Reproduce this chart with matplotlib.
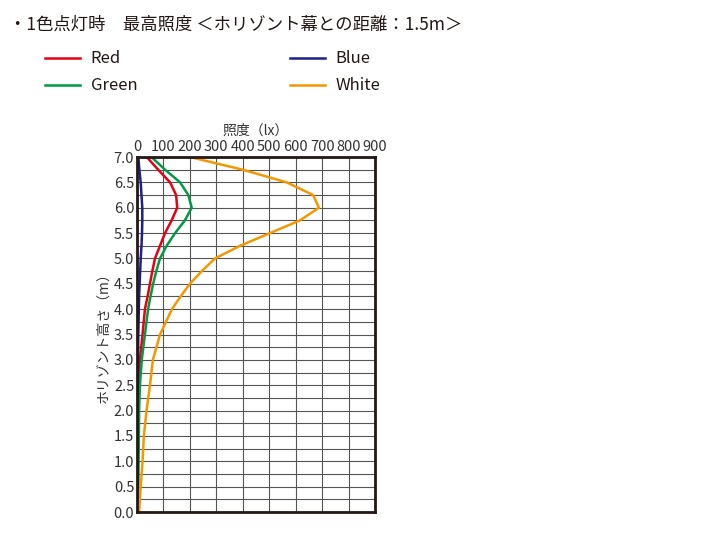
import matplotlib
matplotlib.use('Agg')
import matplotlib.pyplot as plt
from matplotlib.lines import Line2D

matplotlib.rcParams['font.family'] = 'Noto Sans CJK JP'

# height (m) and illuminance (lx)
heights = [0.0, 0.5, 1.0, 1.5, 2.0, 2.5, 3.0, 3.5, 4.0, 4.25, 4.5, 4.75, 5.0, 5.25, 5.5, 5.75, 6.0, 6.25, 6.5, 6.75, 7.0]
red   = [1, 1, 2, 2, 3, 7, 11, 21, 30, 40, 49, 58, 68, 87, 106, 131, 152, 148, 125, 80, 37]
green = [4, 5, 6, 7, 8, 11, 18, 30, 42, 51, 61, 73, 87, 112, 144, 181, 207, 194, 163, 106, 55]
blue  = [1, 1, 1, 2, 2, 3, 4, 5, 7, 8, 10, 12, 14, 17, 19, 20, 20, 17, 14, 9, 5]
white = [8, 14, 21, 26, 36, 49, 60, 87, 132, 165, 200, 245, 295, 390, 503, 616, 688, 666, 566, 400, 200]

series = [('Red', red, '#e60012'), ('Green', green, '#009944'),
          ('Blue', blue, '#1d2088'), ('White', white, '#f39800')]

fig = plt.figure(figsize=(7.15, 5.6), dpi=100)
ax = fig.add_axes([0.1916, 0.0857, 0.3329, 0.6339])

for name, vals, col in series:
    ax.plot(vals, heights, color=col, lw=1.8)

ax.set_xlim(0, 900)
ax.set_ylim(0, 7)
ax.set_xticks(range(0, 1000, 100))
ax.set_yticks([i * 0.5 for i in range(15)])
ax.set_yticklabels(['%.1f' % (i * 0.5) for i in range(15)])
ax.set_yticks([i * 0.25 for i in range(29)], minor=True)
ax.grid(True, which='both', color='#555555', lw=0.8)
ax.xaxis.tick_top()
ax.xaxis.set_label_position('top')
ax.tick_params(which='both', length=0, labelsize=10.5, pad=2, colors='#333333')
for s in ax.spines.values():
    s.set_linewidth(2)
    s.set_color('#231815')
ax.set_xlabel('照度（lx）', fontsize=10, labelpad=4, color='#333333')
ax.set_ylabel('ホリゾント高さ（m）', fontsize=10, labelpad=2, color='#333333')

fig.text(0.012, 0.955, '・1色点灯時　最高照度 ＜ホリゾント幕との距離：1.5m＞',
         fontsize=12.5, va='center', color='#231815')

legend_pos = [('Red', 0.063, 0.896), ('Blue', 0.405, 0.896),
              ('Green', 0.063, 0.848), ('White', 0.405, 0.848)]
colors = {n: c for n, _, c in series}
for name, x, y in legend_pos:
    fig.add_artist(Line2D([x, x + 0.049], [y, y], color=colors[name], lw=1.8))
    fig.text(x + 0.064, y, name, fontsize=12, va='center', color='#231815')

fig.savefig('out.png', dpi=100)
